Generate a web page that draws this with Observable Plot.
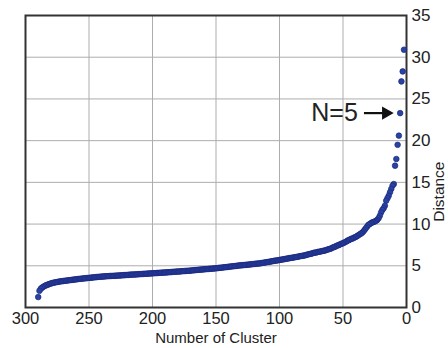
<!DOCTYPE html>
<html><head><meta charset="utf-8">
<script src="https://cdn.jsdelivr.net/npm/d3@7"></script>
<script src="https://cdn.jsdelivr.net/npm/@observablehq/plot@0.6"></script>
<style>body{margin:0;background:#fff}</style>
</head><body><div id="chart"></div>
<script>
// Number of clusters, from 2 up to 290, and the merge distance read for each
const firstCluster = 2;
const distances = [
  30.9, 28.3, 27.1, 23.3, 20.6, 19.5, 17.8, 17.0, 14.8,
  14.6, 14.2, 13.8, 13.4, 13.1, 12.8, 12.2, 11.9, 11.7, 11.4,
  11.0, 10.7, 10.5, 10.4, 10.3, 10.25, 10.2, 10.1, 10.0, 9.9,
  9.7, 9.5, 9.3, 9.1, 8.95, 8.85, 8.75, 8.65, 8.55, 8.45,
  8.4, 8.3, 8.25, 8.2, 8.1, 8.05, 7.95, 7.85, 7.8, 7.7,
  7.65, 7.6, 7.5, 7.45, 7.4, 7.3, 7.25, 7.2, 7.1, 7.05,
  7.0, 6.95, 6.9, 6.85, 6.8, 6.78, 6.75, 6.7, 6.68, 6.65,
  6.6, 6.58, 6.55, 6.5, 6.45, 6.42, 6.38, 6.35, 6.3, 6.25,
  6.22, 6.2, 6.17, 6.15, 6.1, 6.08, 6.05, 6.02, 6.0, 5.97,
  5.94, 5.92, 5.89, 5.86, 5.83, 5.8, 5.78, 5.75, 5.72, 5.7,
  5.67, 5.64, 5.62, 5.6, 5.57, 5.54, 5.51, 5.48, 5.46, 5.43,
  5.41, 5.38, 5.35, 5.33, 5.3, 5.28, 5.27, 5.25, 5.24, 5.22,
  5.2, 5.18, 5.17, 5.15, 5.13, 5.12, 5.1, 5.09, 5.07, 5.06,
  5.05, 5.03, 5.01, 4.99, 4.97, 4.95, 4.94, 4.92, 4.9, 4.88,
  4.86, 4.84, 4.83, 4.81, 4.79, 4.77, 4.76, 4.74, 4.72, 4.7,
  4.69, 4.67, 4.66, 4.65, 4.64, 4.62, 4.61, 4.6, 4.58, 4.57,
  4.56, 4.54, 4.53, 4.52, 4.5, 4.49, 4.47, 4.46, 4.44, 4.42,
  4.41, 4.4, 4.39, 4.38, 4.37, 4.36, 4.35, 4.33, 4.32, 4.31,
  4.3, 4.29, 4.28, 4.27, 4.25, 4.24, 4.23, 4.22, 4.21, 4.2,
  4.19, 4.18, 4.17, 4.16, 4.15, 4.14, 4.13, 4.12, 4.11, 4.1,
  4.09, 4.08, 4.07, 4.06, 4.05, 4.04, 4.03, 4.02, 4.01, 4.0,
  3.99, 3.98, 3.97, 3.96, 3.95, 3.95, 3.94, 3.93, 3.91, 3.9,
  3.89, 3.88, 3.87, 3.86, 3.85, 3.84, 3.83, 3.82, 3.81, 3.8,
  3.79, 3.78, 3.78, 3.77, 3.76, 3.75, 3.74, 3.73, 3.72, 3.7,
  3.69, 3.68, 3.66, 3.65, 3.63, 3.62, 3.6, 3.58, 3.57, 3.55,
  3.53, 3.52, 3.5, 3.49, 3.47, 3.45, 3.44, 3.42, 3.4, 3.38,
  3.36, 3.34, 3.32, 3.3, 3.28, 3.26, 3.24, 3.22, 3.2, 3.18,
  3.16, 3.14, 3.12, 3.09, 3.06, 3.03, 3.0, 2.97, 2.93, 2.88,
  2.83, 2.77, 2.71, 2.65, 2.57, 2.48, 2.38, 2.25, 2.0, 1.25
];
const xTicks = [300, 250, 200, 150, 100, 50, 0];
const yTicks = [0, 5, 10, 15, 20, 25, 30, 35];
const xLabel = "Number of Cluster";
const yLabel = "Distance";
const noteText = "N=5";
const noteCluster = 5;

const data = distances.map((d, i) => ({cluster: firstCluster + i, distance: d}));
const noteValue = data.find(d => d.cluster === noteCluster).distance;

const font = "'Liberation Sans', Arial, Helvetica, sans-serif";
const chart = Plot.plot({
  width: 448, height: 348,
  marginLeft: 25, marginRight: 42, marginTop: 15, marginBottom: 41,
  style: {fontFamily: font, background: "#fff", color: "#222"},
  x: {domain: [300, 0]},
  y: {domain: [0, 35]},
  marks: [
    Plot.gridX(xTicks.filter(t => t !== 300 && t !== 0), {stroke: "#adadad", strokeOpacity: 1, strokeWidth: 1}),
    Plot.gridY(yTicks.filter(t => t !== 0 && t !== 35), {stroke: "#adadad", strokeOpacity: 1, strokeWidth: 1}),
    Plot.axisX({ticks: xTicks, tickSize: 0, tickPadding: 5, fontSize: 16.5, label: null, tickFormat: d => d}),
    Plot.axisY({anchor: "right", ticks: yTicks, tickSize: 0, tickPadding: 5, fontSize: 17, label: null, tickFormat: d => d}),
    Plot.text([xLabel], {x: () => 150, frameAnchor: "bottom", dy: 35, fontSize: 15, fill: "#222"}),
    Plot.text([yLabel], {y: () => 17.5, frameAnchor: "right", dx: 32.5, rotate: -90, fontSize: 15.5, fill: "#222"}),
    Plot.frame({stroke: "#333", strokeWidth: 2}),
    Plot.dot(data, {x: "cluster", y: "distance", r: 2.8, fill: "#2a43a2", stroke: "#1a267c", strokeWidth: 0.7}),
    Plot.text([noteText], {x: () => 38.3, y: () => noteValue, textAnchor: "end", fontSize: 25, fill: "#222"}),
    Plot.link([noteValue], {x1: () => 33.5, x2: () => 17, y1: d => d, y2: d => d, stroke: "#111", strokeWidth: 2.2}),
    Plot.dot([noteValue], {x: () => 16.2, y: d => d, symbol: "triangle", rotate: 90, r: 5, fill: "#111", stroke: "none"})
  ]
});
document.getElementById("chart").append(chart);
</script>
</body></html>
